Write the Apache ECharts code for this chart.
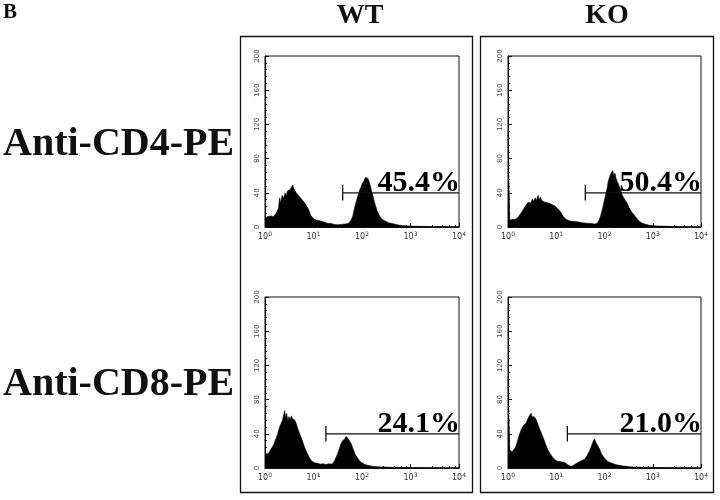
<!DOCTYPE html>
<html>
<head>
<meta charset="utf-8">
<script src="https://cdn.jsdelivr.net/npm/echarts@6/dist/echarts.min.js"></script>
<style>html,body{margin:0;padding:0;background:#fff;}#c{width:720px;height:500px;}</style>
</head>
<body>
<div id="c"></div>
<script>
// ---- data ----
const columnTitles = ['WT', 'KO'];
const rowTitles = ['Anti-CD4-PE', 'Anti-CD8-PE'];
const panelLetter = 'B';
const yTicks = [0, 40, 80, 120, 160, 200];
const xTickExponents = [0, 1, 2, 3, 4];
const percentLabels = ['45.4%', '50.4%', '24.1%', '21.0%'];
const gateStart = [40, 40, 18, 17];
const gateLevel = 40;
const gateEnd = 10000;

const wtCD4 = [[1,9],[1.1,12],[1.2,10],[1.35,13],[1.5,12],[1.7,16],[1.9,22],[2.0,34],[2.1,28],[2.25,37],[2.4,33],[2.6,40],[2.75,36],[2.9,42],[3.1,40],[3.3,44],[3.5,42],[3.75,49],[3.9,45],[4.1,43],[4.4,40],[4.8,38],[5.2,35],[5.7,33],[6.2,30],[6.8,27],[7.3,24],[8.0,20],[8.7,14],[9.5,11],[10.5,9],[12,8],[14,7],[16,6],[19,4.5],[23,4],[27,3],[32,2.5],[38,3],[45,3.5],[52,4],[58,7],[64,12],[70,22],[78,32],[88,42],[100,50],[110,54],[118,58],[124,60],[132,57],[142,52],[155,44],[170,35],[185,27],[205,19],[230,13],[260,9],[300,7],[350,5],[420,4],[500,3],[600,2],[750,1.5],[1000,1],[1500,0.8],[2500,0.6],[4000,0.5],[10000,0.5]];
const koCD4 = [[1,110],[1.07,110],[1.09,8],[1.15,8],[1.25,9],[1.4,9],[1.6,11],[1.75,13],[1.9,17],[2.05,20],[2.2,23],[2.4,26],[2.6,29],[2.8,31],[3.0,28],[3.2,33],[3.4,30],[3.7,34],[3.9,31],[4.2,37],[4.4,32],[4.7,35],[5.0,31],[5.4,33],[5.8,29],[6.3,30],[7.0,28],[7.6,27],[8.3,26],[9.2,25],[10,24],[11,21],[12.5,17],[14,12],[16,9],[19,7],[23,6.5],[28,6],[34,5],[42,4.5],[52,4],[62,3.5],[70,4],[76,7],[82,12],[88,18],[94,25],[100,32],[107,39],[114,46],[120,54],[127,58],[134,62],[140,60],[148,66],[156,60],[165,63],[175,56],[188,52],[200,48],[215,44],[230,38],[250,36],[270,31],[295,28],[320,23],[360,18],[400,15],[450,11],[500,8],[580,5],[680,3.5],[850,2],[1200,1.2],[2000,0.8],[4000,0.5],[10000,0.3]];
const wtCD8 = [[1,16],[1.08,18],[1.17,17],[1.27,20],[1.37,22],[1.5,27],[1.62,32],[1.73,36],[1.85,41],[2.0,48],[2.15,52],[2.3,56],[2.45,63],[2.55,67],[2.65,58],[2.8,64],[2.95,55],[3.1,60],[3.3,57],[3.5,61],[3.7,58],[3.9,59],[4.1,56],[4.4,52],[4.8,45],[5.2,40],[5.8,33],[6.5,25],[7.3,18],[8.2,12],[9.3,8],[10.5,6],[12,5.5],[14,4.5],[16,5],[18,4],[21,5],[24,4.5],[27,8],[30,14],[33,20],[36,27],[40,32],[44,34],[47,37],[51,35],[55,32],[60,28],[66,22],[72,16],[80,12],[89,8.5],[100,6],[115,4],[135,3],[165,2],[200,1.6],[260,1.2],[360,0.8],[600,0.6],[1000,0.5],[3000,0.4],[10000,0.3]];
const koCD8 = [[1,106],[1.07,106],[1.09,21],[1.15,20],[1.22,19],[1.3,21],[1.42,24],[1.55,30],[1.7,38],[1.88,45],[2.05,49],[2.2,51],[2.4,53],[2.55,57],[2.7,60],[2.85,62],[3.0,64],[3.15,60],[3.3,61],[3.5,60],[3.8,57],[4.1,52],[4.5,46],[4.9,41],[5.4,35],[6.0,28],[6.6,22],[7.4,17],[8.3,13],[9.3,10],[10.5,8],[12,7.5],[13.5,7],[15,6.5],[17,4],[19,2.5],[21,2],[24,4],[27.5,6],[32,8],[38,10],[43,14],[48,19],[53,25],[58,31],[62,34],[66,30],[71,28],[78,23],[86,17],[98,12],[115,8],[135,6],[170,4],[220,2.7],[300,1.8],[400,1.2],[700,0.8],[1500,0.5],[4000,0.4],[10000,0.3]];
const histograms = [wtCD4, koCD4, wtCD8, koCD8];

// ---- layout ----
const grids = [
  {left: 265, top: 56, width: 194, height: 171},
  {left: 508, top: 56, width: 193, height: 171},
  {left: 265, top: 297, width: 194, height: 171},
  {left: 508, top: 297, width: 193, height: 171}
];
const serif = '"Liberation Serif", "Times New Roman", serif';

const chart = echarts.init(document.getElementById('c'), null, {renderer: 'canvas'});
const xAxes = [], yAxes = [], series = [];
grids.forEach((g, i) => {
  xAxes.push({
    gridIndex: i, type: 'log', logBase: 10, min: 1, max: 10000,
    axisLine: {lineStyle: {color: '#111', width: 1}},
    axisTick: {show: true, inside: true, length: 4, lineStyle: {color: '#111'}},
    minorTick: {show: true, splitNumber: 5, length: 2, lineStyle: {color: '#111'}},
    splitLine: {show: false},
    axisLabel: {
      margin: 4, color: '#333', fontSize: 8, fontFamily: 'DejaVu Sans',
      formatter: v => '10{s|' + xTickExponents[Math.round(Math.log10(v))] + '}',
      rich: {s: {fontSize: 6, verticalAlign: 'top', padding: [0, 0, 5, 0], color: '#333'}}
    }
  });
  yAxes.push({
    gridIndex: i, type: 'value', min: yTicks[0], max: yTicks[yTicks.length - 1], interval: 40,
    axisLine: {show: true, lineStyle: {color: '#111', width: 1}},
    axisTick: {show: true, inside: true, length: 4, lineStyle: {color: '#111'}},
    minorTick: {show: true, splitNumber: 5, length: 2, lineStyle: {color: '#111'}},
    splitLine: {show: false},
    axisLabel: {margin: 4, rotate: 90, color: '#444', fontSize: 7, fontFamily: 'DejaVu Sans'}
  });
  series.push({
    type: 'line', xAxisIndex: i, yAxisIndex: i, data: histograms[i],
    symbol: 'none', smooth: false,
    lineStyle: {color: '#000', width: 0.6},
    areaStyle: {color: '#000', opacity: 1},
    silent: true, z: 2
  });
  series.push({
    type: 'line', xAxisIndex: i, yAxisIndex: i,
    data: [[gateStart[i], gateLevel - 9], [gateStart[i], gateLevel + 9], [gateStart[i], gateLevel], [gateEnd, gateLevel]],
    symbol: 'none', lineStyle: {color: '#111', width: 1.3}, silent: true, z: 3
  });
  series.push({
    type: 'scatter', xAxisIndex: i, yAxisIndex: i,
    data: [[gateEnd, gateLevel]], symbolSize: 0, silent: true, z: 4,
    itemStyle: {opacity: 1, color: '#000'},
    label: {
      show: true, position: 'left', distance: 0, offset: [1, -10],
      formatter: () => percentLabels[i],
      fontFamily: serif, fontWeight: 'bold', fontSize: 30, color: '#000', opacity: 1
    }
  });
});

const graphic = [
  {type: 'rect', shape: {x: 240.5, y: 36.5, width: 232, height: 456}, style: {fill: 'none', stroke: '#111', lineWidth: 1.3}},
  {type: 'rect', shape: {x: 480.5, y: 36.5, width: 233, height: 456}, style: {fill: 'none', stroke: '#111', lineWidth: 1.3}},
  {type: 'text', style: {x: 3, y: 13, text: panelLetter, font: 'bold 21px ' + serif, fill: '#111', verticalAlign: 'middle'}},
  {type: 'text', style: {x: 360, y: 16, text: columnTitles[0], font: 'bold 28px ' + serif, fill: '#111', align: 'center', verticalAlign: 'middle'}},
  {type: 'text', style: {x: 607, y: 16, text: columnTitles[1], font: 'bold 28px ' + serif, fill: '#111', align: 'center', verticalAlign: 'middle'}},
  {type: 'text', style: {x: 3, y: 145, text: rowTitles[0], font: 'bold 40px ' + serif, fill: '#111', verticalAlign: 'middle'}},
  {type: 'text', style: {x: 3, y: 385, text: rowTitles[1], font: 'bold 40px ' + serif, fill: '#111', verticalAlign: 'middle'}}
];

chart.setOption({
  animation: false,
  backgroundColor: '#fff',
  grid: grids.map(g => Object.assign({show: true, borderColor: '#111', borderWidth: 1, backgroundColor: 'transparent'}, g)),
  xAxis: xAxes,
  yAxis: yAxes,
  series: series,
  graphic: graphic
});
</script>
</body>
</html>
